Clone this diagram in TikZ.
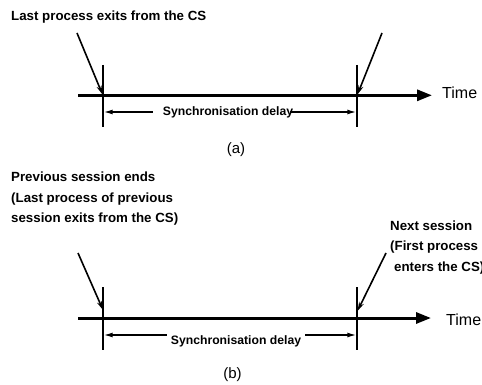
\documentclass[tikz,border=0pt]{standalone}
\usepackage{fontspec}
\setmainfont{Liberation Sans}
\usetikzlibrary{arrows.meta}
\begin{document}
\begin{tikzpicture}[x=1pt,y=-1pt,
  axis/.style={line width=3pt,-{Triangle[length=15pt,width=11pt]}},
  tickline/.style={line width=1.3pt},
  pointer/.style={line width=1.6pt,-{Stealth[length=9pt,width=5pt]}},
  dim/.style={line width=1.4pt,-{Latex[length=9pt,width=5pt]}},
  lbl/.style={inner sep=0pt,font=\bfseries\fontsize{13.3}{20.5}\selectfont},
  mlbl/.style={lbl,align=left,anchor=north west},
  dimlbl/.style={inner sep=0pt,anchor=base,font=\bfseries\fontsize{12.2}{14}\selectfont},
  timelbl/.style={inner sep=0pt,anchor=base west,font=\fontsize{16}{18}\selectfont},
  caption/.style={inner sep=0pt,font=\fontsize{15}{17}\selectfont}]
\useasboundingbox (0,0) rectangle (482,385);

% ---------- (a) ----------
\node[lbl,anchor=base west] (ha) at (11,21) {Last process exits from the CS};

\coordinate (a0) at (78,95.3);
\coordinate (a1) at (432,95.3);
\coordinate (aLt) at (103,65);
\coordinate (aLb) at (103,127);
\coordinate (aRt) at (357,65);
\coordinate (aRb) at (357,127);
\draw[tickline] (aLt) -- (aLb);
\draw[tickline] (aRt) -- (aRb);
\draw[axis] (a0) -- (a1);
\node[timelbl] (ta) at (442,98.3) {Time};

\coordinate (pa1) at (77,33);
\coordinate (pa1t) at (102.5,94.5);
\coordinate (pa2) at (382,33);
\coordinate (pa2t) at (357.5,94.5);
\draw[pointer] (pa1) -- (pa1t);
\draw[pointer] (pa2) -- (pa2t);

\node[dimlbl] (sa) at (228,116) {Synchronisation delay};
\coordinate (sal) at (103.7,112);
\coordinate (sar) at (356.3,112);
\draw[dim] ([xshift=-10pt]sa.west |- sal) -- (sal);
\draw[dim] ([xshift=-3pt]sa.east |- sar) -- (sar);

\node[caption] (capa) at (236,149.7) {(a)};

% ---------- (b) ----------
\node[mlbl] (hb) at (11,171.8) {Previous session ends\\(Last process of previous\\session exits from the CS)};
\node[mlbl] (nb) at (390,220.3) {Next session\\(First process\\\hspace{4pt}enters the CS)};

\coordinate (b0) at (78,318);
\coordinate (b1) at (431,318);
\coordinate (bLt) at (103,287);
\coordinate (bLb) at (103,350);
\coordinate (bRt) at (357,287);
\coordinate (bRb) at (357,350);
\draw[tickline] (bLt) -- (bLb);
\draw[tickline] (bRt) -- (bRb);
\draw[axis] (b0) -- (b1);
\node[timelbl] (tb) at (446,325) {Time};

\coordinate (pb1) at (78,253);
\coordinate (pb1t) at (103,310);
\coordinate (pb2) at (386,253);
\coordinate (pb2t) at (357.5,311);
\draw[pointer] (pb1) -- (pb1t);
\draw[pointer] (pb2) -- (pb2t);

\node[dimlbl] (sb) at (236,344.5) {Synchronisation delay};
\coordinate (sbl) at (103.7,335);
\coordinate (sbr) at (356.3,335);
\draw[dim] ([xshift=-4pt]sb.west |- sbl) -- (sbl);
\draw[dim] ([xshift=4pt]sb.east |- sbr) -- (sbr);

\node[caption] (capb) at (232.5,375) {(b)};
\end{tikzpicture}
\end{document}
